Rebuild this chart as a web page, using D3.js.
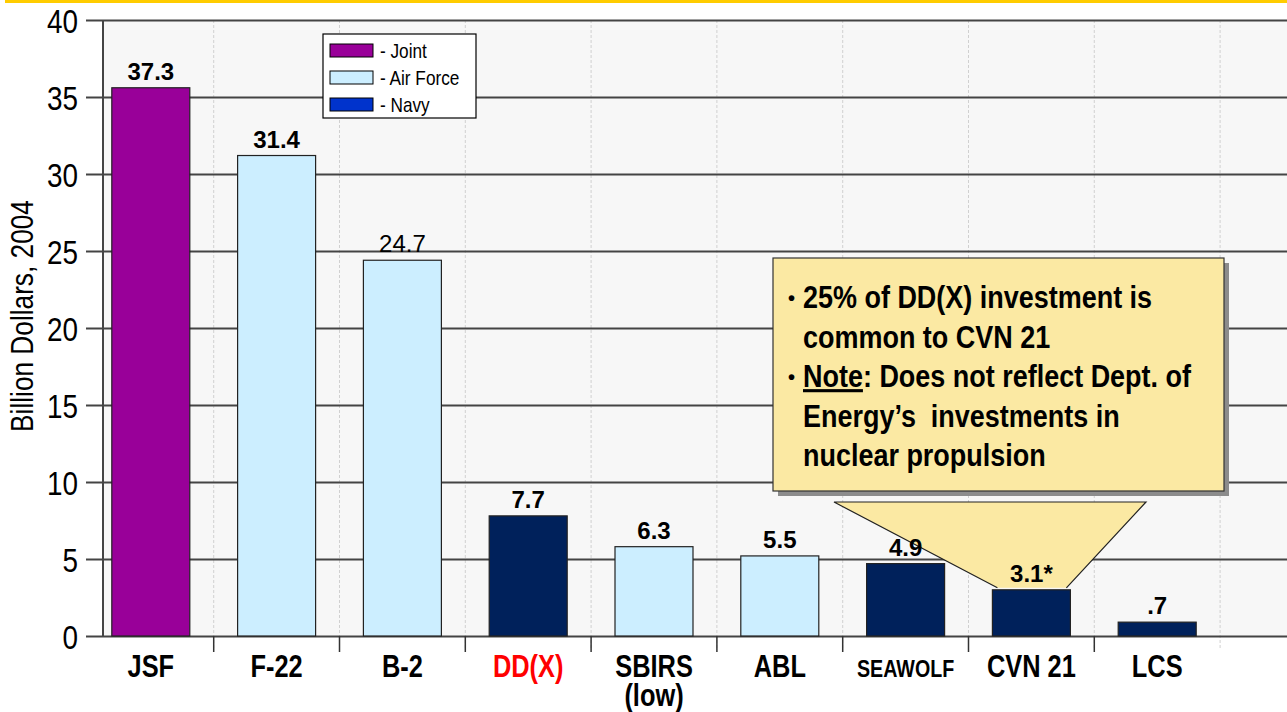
<!DOCTYPE html>
<html>
<head>
<meta charset="utf-8">
<script src="https://cdn.jsdelivr.net/npm/d3@7"></script>
<style>
  body { margin: 0; background: #fff; }
  svg { display: block; }
  svg text { font-family: "Liberation Sans", Arial, sans-serif; }
</style>
</head>
<body>
<div id="chart"></div>
<script>
const programs = ["JSF", "F-22", "B-2", "DD(X)", "SBIRS|(low)", "ABL", "SEAWOLF", "CVN 21", "LCS"];
const barValues = [35.6, 31.2, 24.4, 7.8, 5.8, 5.2, 4.7, 3.0, 0.9];
const valueLabels = ["37.3", "31.4", "24.7", "7.7", "6.3", "5.5", "4.9", "3.1*", ".7"];
const services = ["Joint", "Air Force", "Air Force", "Navy", "Air Force", "Air Force", "Navy", "Navy", "Navy"];
const yTicks = [0, 5, 10, 15, 20, 25, 30, 35, 40];
const legendItems = ["Joint", "Air Force", "Navy"];
const noteLines = [
  ["•", "25% of DD(X) investment is"],
  ["", "common to CVN 21"],
  ["•", "Note: Does not reflect Dept. of"],
  ["", "Energy\u2019s  investments in"],
  ["", "nuclear propulsion"]
];

const width = 1287, height = 712;
const margin = { top: 20, right: 0, bottom: 76, left: 103 };
const plotBottom = height - margin.bottom;
const NARROW = 0.82; // squeeze Liberation Sans to look like Arial Narrow

const barColor = { "Joint": "#990099", "Air Force": "#cceeff", "Navy": "#00215b" };
const legendColor = { "Joint": "#990099", "Air Force": "#cceeff", "Navy": "#0033cc" };

// put a text at (px, py) and squeeze it horizontally
function squeeze(sel, px, py, sx = NARROW) {
  sel.attr("x", null).attr("y", null)
    .attr("transform", `translate(${px},${py}) scale(${sx},1)`);
}

const svg = d3.select("#chart").append("svg")
  .attr("width", width)
  .attr("height", height);

// yellow strip at the very top
svg.append("rect").attr("x", 5).attr("y", 0).attr("width", width).attr("height", 3).attr("fill", "#ffcc00");

const x = d3.scaleBand()
  .domain(programs)
  .range([103, 1205])
  .paddingInner(0.38)
  .paddingOuter(0.07);

const y = d3.scaleLinear()
  .domain([0, 40])
  .range([plotBottom, margin.top]);

// plot background
svg.append("rect")
  .attr("x", margin.left).attr("y", margin.top)
  .attr("width", width - margin.left).attr("height", plotBottom - margin.top)
  .attr("fill", "#f7f7f7");

// dashed vertical grid between categories
const step = x.step();
const bounds = programs.map(p => x(p) + x.bandwidth() + step * x.paddingInner() / 2);
svg.append("g")
  .selectAll("line")
  .data(bounds)
  .join("line")
  .attr("x1", d => d).attr("x2", d => d)
  .attr("y1", margin.top).attr("y2", plotBottom + 14)
  .attr("stroke", "#d0d0d0")
  .attr("stroke-dasharray", "3,2");

// y axis with gridlines across
const yAxis = d3.axisLeft(y)
  .tickValues(yTicks)
  .tickSize(-(width - margin.left))
  .tickSizeOuter(0);
const gy = svg.append("g")
  .attr("transform", `translate(${margin.left},0)`)
  .call(yAxis);
gy.select(".domain").remove();
gy.selectAll(".tick line")
  .attr("x1", -17)
  .attr("stroke", "#444")
  .attr("stroke-width", 2);
gy.selectAll(".tick text")
  .attr("font-family", null)
  .attr("dy", "0.36em")
  .attr("font-size", 34)
  .attr("fill", "#000")
  .call(squeeze, -25, 0);

svg.append("line")
  .attr("x1", margin.left).attr("x2", margin.left)
  .attr("y1", margin.top).attr("y2", plotBottom)
  .attr("stroke", "#444").attr("stroke-width", 2);

// category ticks below axis
svg.append("g")
  .selectAll("line")
  .data(bounds.slice(0, -1))
  .join("line")
  .attr("x1", d => d).attr("x2", d => d)
  .attr("y1", plotBottom).attr("y2", plotBottom + 16)
  .attr("stroke", "#333").attr("stroke-width", 1.5);

svg.append("text")
  .attr("text-anchor", "middle")
  .attr("font-size", 32)
  .attr("transform", `translate(33,316) rotate(-90) scale(${NARROW},1)`)
  .text("Billion Dollars, 2004");

// bars
svg.append("g")
  .selectAll("rect")
  .data(programs)
  .join("rect")
  .attr("x", d => x(d))
  .attr("y", (d, i) => y(barValues[i]))
  .attr("width", x.bandwidth())
  .attr("height", (d, i) => plotBottom - y(barValues[i]))
  .attr("fill", (d, i) => barColor[services[i]])
  .attr("stroke", "#222")
  .attr("stroke-width", 1.2);

// x labels
svg.append("g")
  .selectAll("text")
  .data(programs)
  .join("text")
  .attr("text-anchor", "middle")
  .attr("font-weight", "bold")
  .attr("font-size", d => d === "SEAWOLF" ? 24 : 31)
  .attr("fill", d => d === "DD(X)" ? "#ff0000" : "#000")
  .each(function(d) {
    const t = d3.select(this);
    squeeze(t, x(d) + x.bandwidth() / 2, plotBottom + 41);
    t.selectAll("tspan")
      .data(d.split("|"))
      .join("tspan")
      .attr("x", 0)
      .attr("dy", (p, k) => k === 0 ? 0 : 29)
      .text(p => p);
  });

// legend
const legend = svg.append("g").attr("transform", "translate(323,34)");
legend.append("rect")
  .attr("width", 153).attr("height", 84)
  .attr("fill", "#fff").attr("stroke", "#000").attr("stroke-width", 1.2);
const li = legend.selectAll("g.item")
  .data(legendItems)
  .join("g")
  .attr("class", "item")
  .attr("transform", (d, i) => `translate(7,${10 + i * 27})`);
li.append("rect")
  .attr("width", 43).attr("height", 13)
  .attr("fill", d => legendColor[d])
  .attr("stroke", "#000").attr("stroke-width", 1);
li.append("text")
  .attr("font-size", 21)
  .text(d => "- " + d)
  .call(squeeze, 50, 14);

// callout pointer to CVN 21
const cvn = "CVN 21";
const boxX = 773, boxY = 258, boxW = 451, boxH = 233;
const topY = boxY + boxH + 11;
const px0 = x(cvn) + 5, px1 = x(cvn) + x.bandwidth() - 4, py = y(barValues[7]) - 2;
svg.append("path")
  .attr("d", `M834,${topY}L1146,${topY}L${px1},${py}L${px0},${py}Z`)
  .attr("fill", "#fbe9a3");
svg.append("path")
  .attr("d", `M${px0},${py}L834,${topY}L1146,${topY}L${px1},${py}`)
  .attr("fill", "none").attr("stroke", "#222").attr("stroke-width", 1.2);

// value labels (on top of the pointer)
svg.append("g")
  .selectAll("text")
  .data(programs)
  .join("text")
  .attr("text-anchor", "middle")
  .attr("font-weight", (d, i) => valueLabels[i] === "24.7" ? "normal" : "bold")
  .attr("font-size", 24)
  .attr("x", d => x(d) + x.bandwidth() / 2)
  .attr("y", (d, i) => y(barValues[i]) - 8)
  .text((d, i) => valueLabels[i]);

// callout box
svg.append("rect")
  .attr("x", boxX + 5).attr("y", boxY + 5)
  .attr("width", boxW).attr("height", boxH)
  .attr("fill", "#8c8c8c");
svg.append("rect")
  .attr("x", boxX).attr("y", boxY)
  .attr("width", boxW).attr("height", boxH)
  .attr("fill", "#fbe9a3").attr("stroke", "#333").attr("stroke-width", 1.2);

const note = svg.append("g");
noteLines.forEach((ln, i) => {
  const yy = 308 + i * 39.5;
  if (ln[0]) {
    note.append("text").attr("x", 788).attr("y", yy - 3)
      .attr("font-size", 20).attr("font-weight", "bold").text(ln[0]);
  }
  const t = note.append("text")
    .attr("font-size", 31).attr("font-weight", "bold")
    .style("white-space", "pre");
  if (ln[1].startsWith("Note:")) {
    t.append("tspan").attr("text-decoration", "underline").text("Note");
    t.append("tspan").text(ln[1].slice(4));
  } else {
    t.text(ln[1]);
  }
  squeeze(t, 803, yy, 0.87);
});
</script>
</body>
</html>
